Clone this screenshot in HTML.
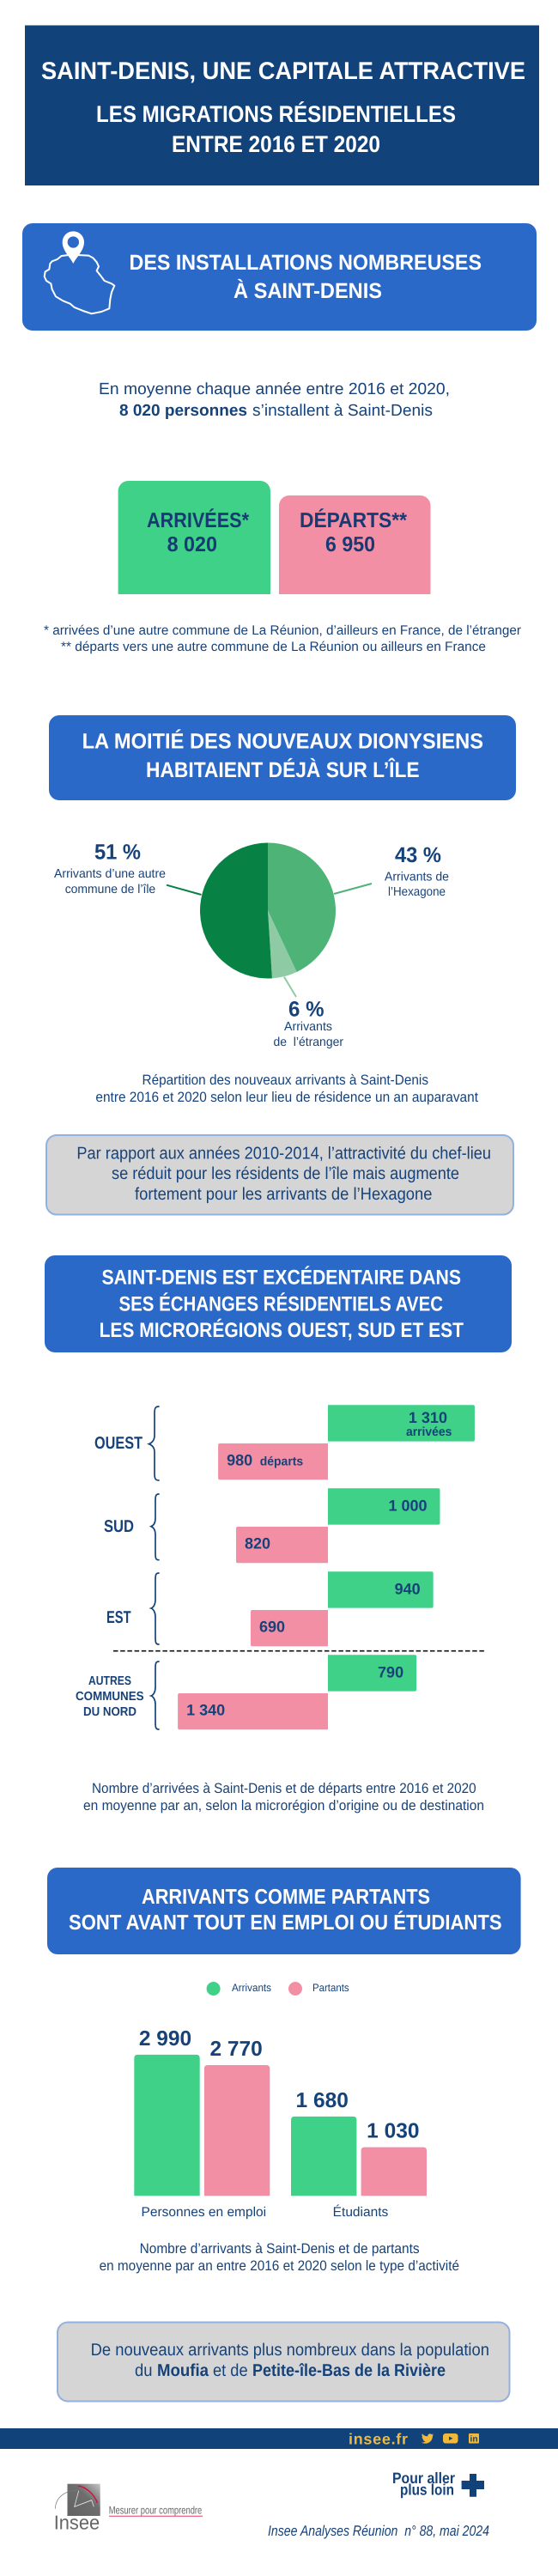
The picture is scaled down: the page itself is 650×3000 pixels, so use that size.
<!DOCTYPE html>
<html lang="fr">
<head>
<meta charset="utf-8">
<title>Saint-Denis, une capitale attractive</title>
<style>
html,body{margin:0;padding:0;background:#fff;}
svg{display:block;}
text{font-family:"Liberation Sans","Noto Sans CJK JP",sans-serif;fill:#16427a;text-rendering:geometricPrecision;}
.h{fill:#fff;font-weight:700;}
.b{font-weight:700;}
.c{fill:#173a74;font-weight:700;}
</style>
</head>
<body>
<svg id="page" xmlns="http://www.w3.org/2000/svg" width="650" height="3000" viewBox="0 0 650 3000">
<defs>
<linearGradient id="logoGrad" x1="0" y1="1" x2="1" y2="0"><stop offset="0" stop-color="#626262"/><stop offset="0.6" stop-color="#6e6e6e"/><stop offset="1" stop-color="#c4c4c4"/></linearGradient>
</defs>
<rect width="650" height="3000" fill="#fff"/>

<!-- Title -->
<rect x="29" y="29.5" width="599" height="186.5" fill="#11427a"/>
<text class="h" x="48" y="92" font-size="28.5" textLength="564" lengthAdjust="spacingAndGlyphs">SAINT-DENIS, UNE CAPITALE ATTRACTIVE</text>
<text class="h" x="112" y="142" font-size="27" textLength="419" lengthAdjust="spacingAndGlyphs">LES MIGRATIONS RÉSIDENTIELLES</text>
<text class="h" x="200" y="177" font-size="27" textLength="243" lengthAdjust="spacingAndGlyphs">ENTRE 2016 ET 2020</text>

<!-- Section 1 -->
<rect x="26" y="260" width="599" height="125" rx="12" fill="#2a69c8"/>
<g transform="translate(40 262) scale(0.3333)">
<path d="M120 105L95 108L80 120L62 127L55 135L52 155L38 163L35 180L42 195L58 205L62 225L75 250L100 265L125 275L140 288L170 300L200 310L235 303L262 292L265 260L270 235L280 212L270 205L245 195L230 175L218 160L225 145L218 130L205 115L190 107L150 105" fill="none" stroke="#fff" stroke-width="6" stroke-linejoin="round"/>
<path fill-rule="evenodd" d="M136 135C125 112 98 90 98 60A38 38 0 0 1 174 60C174 90 147 112 136 135ZM136 40A20 20 0 1 0 136 80A20 20 0 1 0 136 40Z" fill="#fff"/>
</g>
<text class="h" x="150.5" y="314" font-size="25" textLength="410.5" lengthAdjust="spacingAndGlyphs">DES INSTALLATIONS NOMBREUSES</text>
<text class="h" x="272" y="347" font-size="25" textLength="173" lengthAdjust="spacingAndGlyphs">À SAINT-DENIS</text>

<text x="115" y="459" font-size="19" textLength="409" lengthAdjust="spacingAndGlyphs">En moyenne chaque année entre 2016 et 2020,</text>
<text class="b" x="139" y="484" font-size="19" textLength="149" lengthAdjust="spacingAndGlyphs">8 020 personnes</text>
<text x="294" y="484" font-size="19" textLength="210" lengthAdjust="spacingAndGlyphs">s’installent à Saint-Denis</text>

<!-- Cards -->
<path d="M137.6 692V572A12 12 0 0 1 149.6 560H303A12 12 0 0 1 315 572V692Z" fill="#3fd187"/>
<path d="M325 692V589A12 12 0 0 1 337 577H489.5A12 12 0 0 1 501.5 589V692Z" fill="#f28fa5"/>
<text class="c" x="171" y="614" font-size="24.5" textLength="119" lengthAdjust="spacingAndGlyphs">ARRIVÉES*</text>
<text class="c" x="194.6" y="642" font-size="24.5" textLength="58.4" lengthAdjust="spacingAndGlyphs">8 020</text>
<text class="c" x="349" y="614" font-size="24.5" textLength="125" lengthAdjust="spacingAndGlyphs">DÉPARTS**</text>
<text class="c" x="379" y="642" font-size="24.5" textLength="58" lengthAdjust="spacingAndGlyphs">6 950</text>
<text x="51" y="739" font-size="15.5" textLength="556" lengthAdjust="spacingAndGlyphs">* arrivées d’une autre commune de La Réunion, d’ailleurs en France, de l’étranger</text>
<text x="71" y="758" font-size="15.5" textLength="495" lengthAdjust="spacingAndGlyphs">** départs vers une autre commune de La Réunion ou ailleurs en France</text>

<!-- Section 2 -->
<rect x="57" y="833" width="544" height="99" rx="12" fill="#2a69c8"/>
<text class="h" x="95.6" y="871.7" font-size="25" textLength="467.4" lengthAdjust="spacingAndGlyphs">LA MOITIÉ DES NOUVEAUX DIONYSIENS</text>
<text class="h" x="170" y="905" font-size="25" textLength="318.6" lengthAdjust="spacingAndGlyphs">HABITAIENT DÉJÀ SUR L’ÎLE</text>

<!-- Pie -->
<g id="pie"></g>
<path d="M194 1030.7L234.5 1042" stroke="#088144" stroke-width="2" fill="none"/>
<path d="M389 1041L433 1029" stroke="#4db377" stroke-width="2" fill="none"/>
<path d="M331 1137.7L345 1161" stroke="#8ecba5" stroke-width="2" fill="none"/>
<text class="b" id="pct-island" x="110" y="1000.7" font-size="25" textLength="54" lengthAdjust="spacingAndGlyphs">51 %</text>
<text x="63" y="1022" font-size="14.5" textLength="130" lengthAdjust="spacingAndGlyphs">Arrivants d’une autre</text>
<text x="75.7" y="1040" font-size="14.5" textLength="105.5" lengthAdjust="spacingAndGlyphs">commune de l’île</text>
<text class="b" id="pct-hexagone" x="460" y="1004" font-size="25" textLength="54" lengthAdjust="spacingAndGlyphs">43 %</text>
<text x="448" y="1025.5" font-size="14.5" textLength="75" lengthAdjust="spacingAndGlyphs">Arrivants de</text>
<text x="452" y="1043" font-size="14.5" textLength="67" lengthAdjust="spacingAndGlyphs">l’Hexagone</text>
<text class="b" id="pct-abroad" x="336" y="1183.7" font-size="25" textLength="41.5" lengthAdjust="spacingAndGlyphs">6 %</text>
<text x="331" y="1200" font-size="14.5" textLength="56" lengthAdjust="spacingAndGlyphs">Arrivants</text>
<text x="318.5" y="1218" font-size="14.5" textLength="81.5" lengthAdjust="spacingAndGlyphs" xml:space="preserve">de  l’étranger</text>
<text x="165.5" y="1263" font-size="16.5" textLength="333.5" lengthAdjust="spacingAndGlyphs">Répartition des nouveaux arrivants à Saint-Denis</text>
<text x="111.4" y="1283" font-size="16.5" textLength="445.6" lengthAdjust="spacingAndGlyphs">entre 2016 et 2020 selon leur lieu de résidence un an auparavant</text>

<!-- Callout 1 -->
<rect x="54" y="1322" width="544" height="92.5" rx="12" fill="#d5d5d5" stroke="#92b1e0" stroke-width="2"/>
<text x="89.4" y="1349.3" font-size="20" textLength="482.6" lengthAdjust="spacingAndGlyphs">Par rapport aux années 2010-2014, l’attractivité du chef-lieu</text>
<text x="130" y="1373" font-size="20" textLength="405" lengthAdjust="spacingAndGlyphs">se réduit pour les résidents de l’île mais augmente</text>
<text x="157" y="1397" font-size="20" textLength="346.5" lengthAdjust="spacingAndGlyphs">fortement pour les arrivants de l’Hexagone</text>

<!-- Section 3 -->
<rect x="52" y="1462" width="544" height="113" rx="12" fill="#2a69c8"/>
<text class="h" x="118.5" y="1495.7" font-size="24" textLength="418.5" lengthAdjust="spacingAndGlyphs">SAINT-DENIS EST EXCÉDENTAIRE DANS</text>
<text class="h" x="138.5" y="1526.7" font-size="24" textLength="377.5" lengthAdjust="spacingAndGlyphs">SES ÉCHANGES RÉSIDENTIELS AVEC</text>
<text class="h" x="115.6" y="1557" font-size="24" textLength="424.4" lengthAdjust="spacingAndGlyphs">LES MICRORÉGIONS OUEST, SUD ET EST</text>

<!-- Diverging chart annotations -->
<text class="b" x="110" y="1687" font-size="20" textLength="56" lengthAdjust="spacingAndGlyphs">OUEST</text>
<text class="b" x="121" y="1784" font-size="20" textLength="35" lengthAdjust="spacingAndGlyphs">SUD</text>
<text class="b" x="124" y="1890" font-size="20" textLength="28.6" lengthAdjust="spacingAndGlyphs">EST</text>
<text class="b" x="103" y="1962" font-size="14.5" textLength="50" lengthAdjust="spacingAndGlyphs">AUTRES</text>
<text class="b" x="88" y="1980" font-size="14.5" textLength="79.6" lengthAdjust="spacingAndGlyphs">COMMUNES</text>
<text class="b" x="97" y="1998" font-size="14.5" textLength="62" lengthAdjust="spacingAndGlyphs">DU NORD</text>
<g fill="none" stroke="#16427a" stroke-width="1.7" stroke-linecap="round">
<path d="M185 1638C181 1638 180 1640 180 1646L180 1672C180 1677 177 1680.5 173.5 1681.7C177 1683 180 1686 180 1691L180 1716C180 1722 181 1724 185 1724"/>
<path d="M185 1740C181.5 1740 181 1742 181 1748L181 1768C181 1773 179 1776.5 176 1777.7C179 1779 181 1782 181 1787L181 1809C181 1815 181.5 1816.7 185 1816.7"/>
<path d="M185 1832C181.5 1832 181 1834 181 1840L181 1863C181 1868 179 1872 176 1873C179 1874 181 1878 181 1883L181 1907C181 1913 181.5 1915 185 1915"/>
<path d="M185 1935C181.5 1935 181 1937 181 1943L181 1965C181 1970 179 1974 176 1975C179 1976 181 1980 181 1985L181 2006C181 2012 181.5 2014 185 2014"/>
</g>
<path d="M132 1922.7H566" stroke="#111" stroke-width="1.6" stroke-dasharray="5.5 2.7" fill="none"/>
<g id="diverging"></g>
<text x="107" y="2088" font-size="16.5" textLength="447.7" lengthAdjust="spacingAndGlyphs">Nombre d’arrivées à Saint-Denis et de départs entre 2016 et 2020</text>
<text x="97" y="2108" font-size="16.5" textLength="467" lengthAdjust="spacingAndGlyphs">en moyenne par an, selon la microrégion d’origine ou de destination</text>

<!-- Section 4 -->
<rect x="55" y="2175" width="551.6" height="101" rx="12" fill="#2a69c8"/>
<text class="h" x="165" y="2217" font-size="24.5" textLength="336" lengthAdjust="spacingAndGlyphs">ARRIVANTS COMME PARTANTS</text>
<text class="h" x="80" y="2247" font-size="24.5" textLength="504.6" lengthAdjust="spacingAndGlyphs">SONT AVANT TOUT EN EMPLOI OU ÉTUDIANTS</text>

<g>
<circle cx="248.6" cy="2316" r="8" fill="#3fd187"/>
<text x="270" y="2319" font-size="12.5" textLength="46" lengthAdjust="spacingAndGlyphs">Arrivants</text>
<circle cx="344" cy="2316" r="8" fill="#f28fa5"/>
<text x="364" y="2319" font-size="12.5" textLength="42.6" lengthAdjust="spacingAndGlyphs">Partants</text>
</g>
<g id="grouped"></g>
<text x="162.6" y="2624" font-size="16.5" textLength="326" lengthAdjust="spacingAndGlyphs">Nombre d’arrivants à Saint-Denis et de partants</text>
<text x="115.6" y="2644" font-size="16.5" textLength="419.4" lengthAdjust="spacingAndGlyphs">en moyenne par an entre 2016 et 2020 selon le type d’activité</text>

<!-- Callout 2 -->
<rect x="67" y="2704.5" width="526.5" height="92" rx="12" fill="#d5d5d5" stroke="#92b1e0" stroke-width="2"/>
<text x="105.6" y="2743" font-size="20" textLength="464.4" lengthAdjust="spacingAndGlyphs">De nouveaux arrivants plus nombreux dans la population</text>
<text x="157" y="2767" font-size="20" textLength="20.5" lengthAdjust="spacingAndGlyphs">du</text>
<text class="b" x="183" y="2767" font-size="20" textLength="60" lengthAdjust="spacingAndGlyphs">Moufia</text>
<text x="248" y="2767" font-size="20" textLength="40.6" lengthAdjust="spacingAndGlyphs">et de</text>
<text class="b" x="294" y="2767" font-size="20" textLength="225" lengthAdjust="spacingAndGlyphs">Petite-île-Bas de la Rivière</text>

<!-- Footer -->
<rect x="0" y="2828" width="650" height="24" fill="#11427a"/>
<text class="b" x="406" y="2846.7" font-size="18" textLength="69" lengthAdjust="spacing" style="fill:#f0b93b">insee.fr</text>
<path d="M505 2835.4C504.4 2835.7 503.8 2835.9 503.2 2836C503.8 2835.6 504.3 2835 504.5 2834.3C503.9 2834.7 503.3 2834.9 502.6 2835.1C501.2 2833.6 498.3 2834.6 498.3 2836.8V2837.3C495.8 2837.3 493.3 2836.1 491.9 2834.2C491.1 2835.6 491.5 2837.5 492.9 2838.4C492.4 2838.4 491.9 2838.2 491.5 2838C491.5 2839.5 492.6 2840.8 494 2841.1C493.6 2841.2 493.1 2841.2 492.6 2841.1C493 2842.3 494.2 2843.1 495.5 2843.2C494.2 2844.2 492.5 2844.7 490.8 2844.5C496.3 2847.6 504 2844.5 504 2836.7C504.4 2836.4 504.8 2835.9 505 2835.4Z" fill="#f0b93b"/>
<g>
<rect x="516" y="2834" width="17.5" height="11.5" rx="3.2" fill="#f0b93b"/>
<path d="M523 2837.5L527.5 2839.7L523 2842Z" fill="#11427a"/>
</g>
<g>
<rect x="546" y="2834" width="12" height="11.5" rx="1" fill="#f0b93b"/>
<text class="b" x="547.5" y="2843.6" font-size="10" textLength="9" lengthAdjust="spacingAndGlyphs" style="fill:#11427a">in</text>
</g>

<text class="b" x="457" y="2892" font-size="18" textLength="73" lengthAdjust="spacingAndGlyphs">Pour aller</text>
<text class="b" x="466" y="2905.7" font-size="18" textLength="63" lengthAdjust="spacingAndGlyphs">plus loin</text>
<path d="M547 2881H555V2889H564V2899H555V2907.7H547V2899H537.6V2889H547Z" fill="#11427a"/>

<g>
<rect x="78.5" y="2892.7" width="38.2" height="37.3" fill="url(#logoGrad)"/>
<path d="M90.7 2895C100 2896 110 2905 113.5 2915" fill="none" stroke="#d0103a" stroke-width="1.5"/>
<path d="M91.7 2900.7L86.7 2919.3L106.7 2911.7L109.3 2919.3" fill="none" stroke="#e8e8e8" stroke-width="0.8"/>
<path d="M64.3 2921.7C65 2908 76 2900 92 2900" fill="none" stroke="#777" stroke-width="0.7"/>
<text x="62.7" y="2945.7" font-size="23" textLength="53.5" lengthAdjust="spacingAndGlyphs" style="fill:#666">Insee</text>
<text x="126.7" y="2927.7" font-size="12.5" textLength="108.6" lengthAdjust="spacingAndGlyphs" style="fill:#666">Mesurer pour comprendre</text>
<path d="M127 2930.3H236" stroke="#e8386a" stroke-width="1" fill="none"/>
</g>
<text x="312" y="2953" font-size="17" font-style="italic" textLength="258" lengthAdjust="spacingAndGlyphs" xml:space="preserve">Insee Analyses Réunion  n° 88, mai 2024</text>
</svg>

<script>
// ---- Pie chart data ----
const pieCategories = ['Hexagone', 'Étranger', 'Île'];
const pieShares = [43, 6, 51];
// ---- Diverging bar chart data ----
const regions = ['ouest', 'sud', 'est', 'nord'];
const arrivals = [1310, 1000, 940, 790];
const departures = [980, 820, 690, 1340];
const arrivalUnits = ['arrivées', '', '', ''];
const departureUnits = ['départs', '', '', ''];
// ---- Grouped bar chart data ----
const activities = ['Personnes en emploi', 'Étudiants'];
const arrivants = [2990, 1680];
const partants = [2770, 1030];

const NS = 'http://www.w3.org/2000/svg';
const pieColors = ['#4db377', '#8ecba5', '#088144'];

function fmt(v) {
  return String(v).replace(/\B(?=(\d{3})+$)/g, ' ');
}
function make(parent, tag, attrs) {
  const el = document.createElementNS(NS, tag);
  for (const k in attrs) el.setAttribute(k, attrs[k]);
  parent.appendChild(el);
  return el;
}

// Pie
const pieGroup = document.getElementById('pie');
const pieCx = 312, pieCy = 1060.5, pieR = 79;
const pieTotal = pieShares.reduce(function (a, b) { return a + b; }, 0);
function pieAngle(v) { return v / pieTotal * 2 * Math.PI; }
function piePoint(a) { return [pieCx + pieR * Math.sin(a), pieCy - pieR * Math.cos(a)]; }
let cumulative = 0;
pieShares.forEach(function (share, i) {
  const a0 = pieAngle(cumulative);
  cumulative += share;
  const a1 = pieAngle(cumulative);
  const p0 = piePoint(a0), p1 = piePoint(a1);
  const large = a1 - a0 > Math.PI ? 1 : 0;
  const slice = make(pieGroup, 'path', {
    d: 'M' + pieCx + ' ' + pieCy + 'L' + p0[0] + ' ' + p0[1] + 'A' + pieR + ' ' + pieR + ' 0 ' + large + ' 1 ' + p1[0] + ' ' + p1[1] + 'Z',
    fill: pieColors[i]
  });
  
  
});
document.getElementById('pct-hexagone').textContent = pieShares[0] + ' %';
document.getElementById('pct-abroad').textContent = pieShares[1] + ' %';
document.getElementById('pct-island').textContent = pieShares[2] + ' %';

// Diverging bars
const divGroup = document.getElementById('diverging');
const axisX = 382, divScale = 0.1305, divBarH = 42.3;
function divWidth(v) { return v * divScale; }
function bandY(i) { return 1636.3 + 97 * i; }
function departY(i) { return bandY(i) + 44.7; }
regions.forEach(function (region, i) {
  const wA = divWidth(arrivals[i]), yA = bandY(i);
  const barA = make(divGroup, 'path', {
    d: 'M' + axisX + ' ' + yA + 'H' + (axisX + wA - 2) + 'Q' + (axisX + wA) + ' ' + yA + ' ' + (axisX + wA) + ' ' + (yA + 2) +
       'V' + (yA + divBarH - 2) + 'Q' + (axisX + wA) + ' ' + (yA + divBarH) + ' ' + (axisX + wA - 2) + ' ' + (yA + divBarH) + 'H' + axisX + 'Z',
    fill: '#3fd187'
  });
  
  

  const wD = divWidth(departures[i]), yD = departY(i), xD = axisX - wD;
  const barD = make(divGroup, 'path', {
    d: 'M' + axisX + ' ' + yD + 'H' + (xD + 2) + 'Q' + xD + ' ' + yD + ' ' + xD + ' ' + (yD + 2) +
       'V' + (yD + divBarH - 2) + 'Q' + xD + ' ' + (yD + divBarH) + ' ' + (xD + 2) + ' ' + (yD + divBarH) + 'H' + axisX + 'Z',
    fill: '#f28fa5'
  });
  
  

  const hasUnitA = arrivalUnits[i] !== '';
  const labelA = make(divGroup, 'text', {
    x: axisX + wA - (hasUnitA ? 32 : 15),
    y: yA + (hasUnitA ? 20.7 : 26),
    'text-anchor': 'end',
    'font-size': 18,
    'font-weight': 700
  });
  labelA.textContent = fmt(arrivals[i]);
  
  
  if (hasUnitA) {
    const unitA = make(divGroup, 'text', {
      x: axisX + wA - 80, y: yA + 35.7, 'font-size': 14.5, 'font-weight': 700,
      textLength: 53.4, lengthAdjust: 'spacingAndGlyphs'
    });
    unitA.textContent = arrivalUnits[i];
    
    
  }

  const labelD = make(divGroup, 'text', {
    x: xD + 10, y: yD + 25.5, 'font-size': 18, 'font-weight': 700
  });
  labelD.textContent = fmt(departures[i]);
  
  
  if (departureUnits[i] !== '') {
    const unitD = make(divGroup, 'text', {
      x: xD + 48.6, y: yD + 25.5, 'font-size': 14.5, 'font-weight': 700,
      textLength: 50.5, lengthAdjust: 'spacingAndGlyphs'
    });
    unitD.textContent = departureUnits[i];
    
    
  }
});

// Grouped bars
const grpGroup = document.getElementById('grouped');
const baseY = 2557.3, grpScale = 0.055, grpBarW = 76.4, grpLabelGap = 11;
function valueY(v) { return baseY - v * grpScale; }
function groupX(i) { return 156.3 + 182.7 * i; }
function topRounded(x, top, w, r) {
  return 'M' + x + ' ' + baseY + 'V' + (top + r) + 'Q' + x + ' ' + top + ' ' + (x + r) + ' ' + top +
         'H' + (x + w - r) + 'Q' + (x + w) + ' ' + top + ' ' + (x + w) + ' ' + (top + r) + 'V' + baseY + 'Z';
}
activities.forEach(function (activity, i) {
  const slug = activity.toLowerCase().replace(/[^a-zà-ÿ]+/g, '-');
  const xA = groupX(i), xP = groupX(i) + 81.6;
  const barA = make(grpGroup, 'path', { d: topRounded(xA, valueY(arrivants[i]), grpBarW, 4), fill: '#3fd187' });
  
  
  const barP = make(grpGroup, 'path', { d: topRounded(xP, valueY(partants[i]), grpBarW, 4), fill: '#f28fa5' });
  
  
  const vA = make(grpGroup, 'text', {
    x: xA + grpBarW / 2 - 2, y: valueY(arrivants[i]) - grpLabelGap,
    'text-anchor': 'middle', 'font-size': 24.5, 'font-weight': 700
  });
  vA.textContent = fmt(arrivants[i]);
  
  
  const vP = make(grpGroup, 'text', {
    x: xP + grpBarW / 2 - 1, y: valueY(partants[i]) - grpLabelGap,
    'text-anchor': 'middle', 'font-size': 24.5, 'font-weight': 700
  });
  vP.textContent = fmt(partants[i]);
  
  
  const cat = make(grpGroup, 'text', {
    x: xA + 81, y: 2581, 'text-anchor': 'middle', 'font-size': 15.5
  });
  cat.textContent = activity;
  
  
});
</script>
</body>
</html>
